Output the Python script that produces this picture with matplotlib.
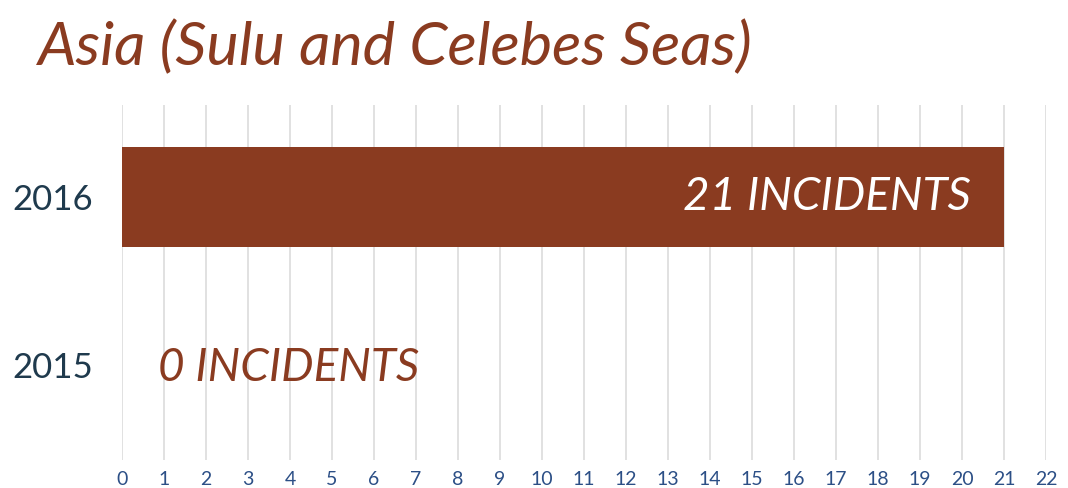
import matplotlib
matplotlib.use('Agg')
import matplotlib.pyplot as plt

# === Data ===
years = ['2015', '2016']
incidents = [0, 21]
labels = ['0 INCIDENTS', '21 INCIDENTS']
x_ticks = list(range(0, 23))

brown = '#8a3b20'
navy = '#1f3a4d'
tick_blue = '#2c4f86'

W, H = 1068, 488
fig = plt.figure(figsize=(W / 100, H / 100), dpi=100)
fig.patch.set_facecolor('white')

# axes placed in pixel terms
left, right, top, bottom = 122, 1046, 105, 460
ax = fig.add_axes([left / W, 1 - bottom / H, (right - left) / W, (bottom - top) / H])

y = [0, 1]
ax.barh(y, incidents, height=0.595, color=brown, zorder=2)

ax.set_xlim(0, 22)
ax.set_ylim(-0.565, 1.548)
ax.set_xticks(x_ticks)
ax.set_xticklabels([str(t) for t in x_ticks], fontsize=14, color=tick_blue,
                   fontfamily='Lato')
ax.tick_params(axis='x', length=0, pad=8)
ax.set_yticks(y)
ax.set_yticklabels(years, fontsize=25, color=navy, fontfamily='Lato')
ax.tick_params(axis='y', length=0, pad=21)
for lbl in ax.get_yticklabels():
    lbl.set_horizontalalignment('right')

ax.grid(axis='x', color='#dcdcdc', linewidth=1.2, zorder=0)
ax.grid(axis='y', visible=False)
for s in ax.spines.values():
    s.set_visible(False)

# value labels
ax.text(20.2, 1, labels[1], ha='right', va='center', fontsize=33,
        style='italic', color='white', fontfamily='Lato', zorder=3)
ax.text(0.85, -0.02, labels[0], ha='left', va='center', fontsize=33,
        style='italic', color=brown, fontfamily='Lato', zorder=3)

# title
fig.text(38 / W, 1 - 47 / H, 'Asia (Sulu and Celebes Seas)', ha='left', va='center',
         fontsize=44, style='italic', color=brown, fontfamily='Lato')

fig.savefig('out.png', dpi=100)
